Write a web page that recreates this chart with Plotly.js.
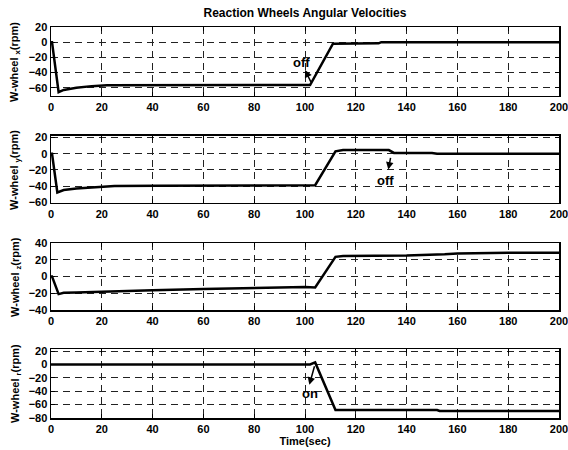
<!DOCTYPE html>
<html>
<head>
<meta charset="utf-8">
<script src="https://cdn.plot.ly/plotly-3.0.1.min.js"></script>
<style>html,body{margin:0;padding:0;background:#fff;}#chart{width:568px;height:450px;}</style>
</head>
<body>
<div id="chart"></div>
<script>
// Time samples (sec) and wheel angular velocities (rpm)
var timeX = [0, 0.4, 3, 5, 10, 16, 22, 50, 102, 111, 120, 129, 130, 200];
var wheelX = [0, 0, -66, -63, -60, -58, -57, -56.5, -56.5, -2, -1.5, -1.5, 0, 0];

var timeY = [0, 0.4, 2.5, 5, 10, 20, 25, 42, 104, 112, 115, 133, 135, 150, 152, 200];
var wheelY = [0, 0, -48, -45, -43, -41, -40, -39.5, -39, 3, 4.5, 4.5, 1, 1, 0, 0];

var timeZ = [0, 0.4, 3, 5, 10, 20, 40, 60, 80, 100, 104, 112, 115, 140, 155, 160, 180, 200];
var wheelZ = [0, 0, -21, -19.5, -19, -18, -16.5, -15, -13.5, -12.5, -13, 23.5, 24.5, 25, 26.5, 27.5, 28.5, 28.5];

var timeR = [0, 102, 104, 112, 152, 153, 200];
var wheelR = [0, 0, 3, -68, -68, -69.5, -69.5];

var panelTitles = ['W-wheel <sub>x</sub>(rpm)', 'W-wheel <sub>y</sub>(rpm)', 'W-wheel <sub>z</sub>(rpm)', 'W-wheel <sub>r</sub>(rpm)'];
var xTicks = [0, 20, 40, 60, 80, 100, 120, 140, 160, 180, 200];

var font = {family: 'Liberation Sans, Arial, sans-serif', size: 11, color: '#000', weight: 'bold'};
var lineStyle = {color: '#000', width: 2.5};

var traces = [
  {x: timeX, y: wheelX, xaxis: 'x', yaxis: 'y', mode: 'lines', line: lineStyle},
  {x: timeY, y: wheelY, xaxis: 'x2', yaxis: 'y2', mode: 'lines', line: lineStyle},
  {x: timeZ, y: wheelZ, xaxis: 'x3', yaxis: 'y3', mode: 'lines', line: lineStyle},
  {x: timeR, y: wheelR, xaxis: 'x4', yaxis: 'y4', mode: 'lines', line: lineStyle}
];

function xax(anchor, extra) {
  var a = {
    anchor: anchor, domain: [0, 1], range: [0, 200], tickvals: xTicks,
    ticks: 'inside', ticklen: 4, tickcolor: '#000', mirror: 'ticks',
    showline: true, linecolor: '#000', linewidth: 1.5,
    showgrid: true, gridcolor: '#222', gridwidth: 1, griddash: '7px,5px',
    zeroline: false, tickfont: font, automargin: false, ticklabeloverflow: 'allow'
  };
  for (var k in extra) a[k] = extra[k];
  return a;
}
function yax(anchor, domain, range, tickvals) {
  return {
    anchor: anchor, domain: domain, range: range, tickvals: tickvals,
    ticks: 'inside', ticklen: 4, tickcolor: '#000', mirror: 'ticks',
    showline: true, linecolor: '#000', linewidth: 1.5,
    showgrid: true, gridcolor: '#222', gridwidth: 1, griddash: '7px,5px',
    zeroline: false, tickfont: font, automargin: false, ticklabeloverflow: 'allow'
  };
}

var domains = [[0.7867, 0.94], [0.5489, 0.6978], [0.3111, 0.46], [0.0711, 0.2244]];

var annotations = [];
for (var i = 0; i < 4; i++) {
  annotations.push({
    text: panelTitles[i], xref: 'paper', yref: 'paper', x: -0.07,
    y: (domains[i][0] + domains[i][1]) / 2, textangle: -90, showarrow: false,
    xanchor: 'center', yanchor: 'middle', font: font
  });
}
var markFont = {family: 'Liberation Sans, Arial, sans-serif', size: 13, color: '#000', weight: 'bold'};
annotations.push(
  {xref: 'x', yref: 'y', x: 100, y: -36.7, axref: 'x', ayref: 'y', ax: 102.6, ay: -54.3, text: '', showarrow: true, arrowhead: 2, arrowsize: 1, arrowwidth: 1.5, arrowcolor: '#000'},
  {xref: 'x', yref: 'y', x: 98.7, y: -26.6, text: 'off', showarrow: false, font: markFont},
  {xref: 'x2', yref: 'y2', x: 132.8, y: -19.6, axref: 'x2', ayref: 'y2', ax: 133.8, ay: -3.3, text: '', showarrow: true, arrowhead: 2, arrowsize: 1, arrowwidth: 1.5, arrowcolor: '#000'},
  {xref: 'x2', yref: 'y2', x: 131.7, y: -33, text: 'off', showarrow: false, font: markFont},
  {xref: 'x4', yref: 'y4', x: 101.7, y: -30.5, axref: 'x4', ayref: 'y4', ax: 103.9, ay: -0.5, text: '', showarrow: true, arrowhead: 2, arrowsize: 1, arrowwidth: 1.5, arrowcolor: '#000'},
  {xref: 'x4', yref: 'y4', x: 102, y: -43, text: 'on', showarrow: false, font: markFont}
);

var layout = {
  width: 568, height: 450,
  margin: {l: 51, r: 9, t: 0, b: 0},
  paper_bgcolor: '#fff', plot_bgcolor: '#fff',
  showlegend: false,
  title: {text: 'Reaction Wheels Angular Velocities', x: 0.5, xref: 'paper', y: 0.971, yref: 'container', yanchor: 'middle',
          font: {family: 'Liberation Sans, Arial, sans-serif', size: 12, color: '#000', weight: 'bold'}},
  xaxis: xax('y', {}),
  xaxis2: xax('y2', {}),
  xaxis3: xax('y3', {}),
  xaxis4: xax('y4', {title: {text: 'Time(sec)', font: font, standoff: 2}}),
  yaxis: yax('x', domains[0], [-71, 20], [-60, -40, -20, 0, 20]),
  yaxis2: yax('x2', domains[1], [-61, 22], [-60, -40, -20, 0, 20]),
  yaxis3: yax('x3', domains[2], [-40, 40], [-40, -20, 0, 20, 40]),
  yaxis4: yax('x4', domains[3], [-80, 23], [-80, -60, -40, -20, 0, 20]),
  annotations: annotations
};

Plotly.newPlot('chart', traces, layout, {displayModeBar: false, staticPlot: true});
</script>
</body>
</html>
